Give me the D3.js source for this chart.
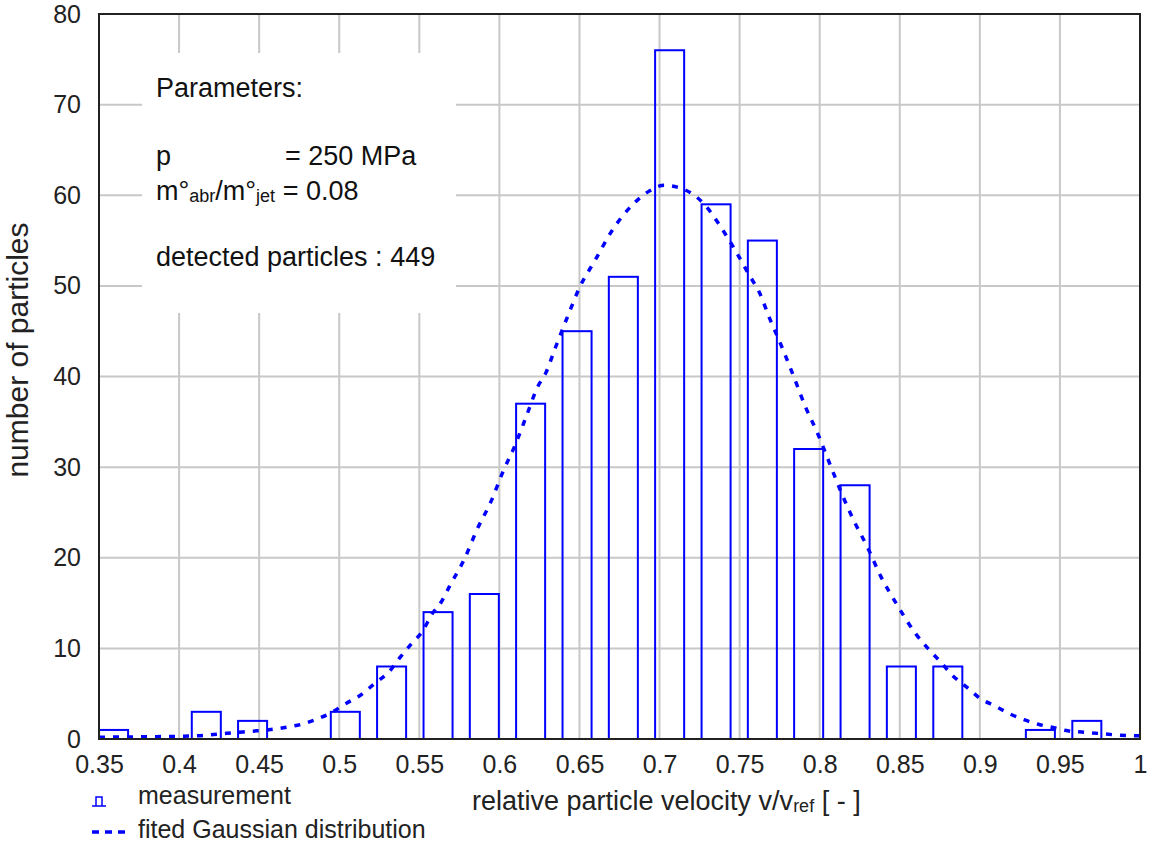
<!DOCTYPE html>
<html>
<head>
<meta charset="utf-8">
<script src="https://cdn.jsdelivr.net/npm/d3@7"></script>
<style>
  html, body { margin: 0; padding: 0; background: #fff; }
  svg { display: block; font-family: "Liberation Sans", Arial, sans-serif; }
</style>
</head>
<body>
<svg id="chart" width="1149" height="842"></svg>
<script>
// ---- data ----
const xTickValues = [0.35, 0.4, 0.45, 0.5, 0.55, 0.6, 0.65, 0.7, 0.75, 0.8, 0.85, 0.9, 0.95, 1];
const xTickLabels = ["0.35", "0.4", "0.45", "0.5", "0.55", "0.6", "0.65", "0.7", "0.75", "0.8", "0.85", "0.9", "0.95", "1"];
const yTickValues = [0, 10, 20, 30, 40, 50, 60, 70, 80];

// histogram: bin centres (relative velocity) and counts
const binCenters = [0.3591, 0.4170, 0.4459, 0.5038, 0.5327, 0.5617, 0.5906, 0.6195, 0.6485,
                    0.6774, 0.7063, 0.7353, 0.7642, 0.7931, 0.8221, 0.8510, 0.8800, 0.9378, 0.9668];
const counts = [1, 3, 2, 3, 8, 14, 16, 37, 45, 51, 76, 59, 55, 32, 28, 8, 8, 1, 2];

// fitted Gaussian curve
const fitV = [0.350, 0.380, 0.400, 0.415, 0.425, 0.435, 0.445, 0.455, 0.467, 0.477, 0.486, 0.495,
              0.504, 0.513, 0.522, 0.531, 0.538, 0.545, 0.552, 0.558, 0.564, 0.569, 0.578, 0.586,
              0.595, 0.602, 0.610, 0.617, 0.624, 0.629, 0.635, 0.643, 0.650, 0.660, 0.670, 0.684,
              0.693, 0.703, 0.711, 0.720, 0.729, 0.736, 0.747, 0.757, 0.762, 0.769, 0.777, 0.784,
              0.791, 0.799, 0.806, 0.813, 0.821, 0.830, 0.838, 0.848, 0.860, 0.867, 0.875, 0.883,
              0.892, 0.900, 0.910, 0.919, 0.928, 0.937, 0.945, 0.955, 0.965, 0.975, 0.985, 1.000];
const fitN = [0.2, 0.25, 0.3, 0.4, 0.55, 0.7, 0.85, 1.0, 1.3, 1.65, 2.2, 2.9,
              3.9, 4.8, 6.1, 7.4, 9.0, 10.5, 11.9, 13.8, 15.2, 16.9, 19.8, 23.1,
              26.3, 29.4, 32.5, 35.7, 38.9, 40.4, 43.2, 46.8, 49.8, 52.9, 56.0, 59.1,
              60.4, 61.1, 60.9, 60.2, 58.8, 57.1, 54.0, 50.9, 49.4, 46.3, 43.0, 39.9,
              36.7, 33.6, 30.5, 27.4, 24.2, 21.1, 18.0, 14.9, 11.6, 10.1, 8.6, 7.0,
              5.7, 4.5, 3.6, 2.75, 2.1, 1.6, 1.3, 0.9, 0.75, 0.6, 0.45, 0.35];

// ---- layout ----
const BAR_W = 0.018125; // bar width in velocity units
const blue = "#0000ff";
const gridCol = "#c8c8c8";
const svg = d3.select("#chart");
const pLeft = 99, pRight = 1140, pTop = 14, pBottom = 739;

const x = d3.scaleLinear().domain([0.35, 1]).range([pLeft, pRight]);
const y = d3.scaleLinear().domain([0, 80]).range([pBottom, pTop]);

// gridlines
svg.append("g").selectAll("line").data(xTickValues.slice(1, -1)).join("line")
  .attr("x1", d => x(d)).attr("x2", d => x(d)).attr("y1", pTop).attr("y2", pBottom)
  .attr("stroke", gridCol).attr("stroke-width", 2);
svg.append("g").selectAll("line").data(yTickValues.slice(1, -1)).join("line")
  .attr("x1", pLeft).attr("x2", pRight).attr("y1", d => y(d)).attr("y2", d => y(d))
  .attr("stroke", gridCol).attr("stroke-width", 2);

// annotation box (white, hides grid)
svg.append("rect").attr("x", 142).attr("y", 53).attr("width", 314).attr("height", 260).attr("fill", "#fff");

const fs = 27;
const ann = svg.append("g").attr("font-size", fs).attr("fill", "#111");
ann.append("text").attr("x", 156).attr("y", 97).text("Parameters:");
ann.append("text").attr("x", 156).attr("y", 165).text("p");
ann.append("text").attr("x", 285).attr("y", 165).text("= 250 MPa");
const t3 = ann.append("text").attr("x", 156).attr("y", 200);
t3.append("tspan").text("m°");
t3.append("tspan").attr("font-size", 18).attr("dy", 2).text("abr");
t3.append("tspan").attr("dy", -2).text("/m°");
t3.append("tspan").attr("font-size", 18).attr("dy", 2).text("jet");
t3.append("tspan").attr("dy", -2).text(" = 0.08");
ann.append("text").attr("x", 156).attr("y", 266).text("detected particles : 449");

// bars
svg.append("g").selectAll("rect").data(counts).join("rect")
  .attr("x", (d, i) => x(binCenters[i] - BAR_W / 2))
  .attr("width", (d, i) => x(binCenters[i] + BAR_W / 2) - x(binCenters[i] - BAR_W / 2))
  .attr("y", d => y(d))
  .attr("height", d => y(0) - y(d))
  .attr("fill", "none").attr("stroke", blue).attr("stroke-width", 2);

// fitted curve
const pts = fitV.map((v, i) => [v, fitN[i]]);
svg.append("path").datum(pts)
  .attr("d", d3.line().x(d => x(d[0])).y(d => y(d[1])).curve(d3.curveMonotoneX))
  .attr("fill", "none").attr("stroke", blue).attr("stroke-width", 3.5)
  .attr("stroke-dasharray", "6,8");

// frame
svg.append("rect").attr("x", pLeft).attr("y", pTop).attr("width", pRight - pLeft).attr("height", pBottom - pTop)
  .attr("fill", "none").attr("stroke", "#222").attr("stroke-width", 2);

// axes (labels only)
const xAxis = d3.axisBottom(x).tickValues(xTickValues).tickFormat((d, i) => xTickLabels[i]).tickSize(0).tickPadding(16);
const gx = svg.append("g").attr("transform", `translate(0,${pBottom})`).call(xAxis);
gx.select(".domain").remove();
gx.selectAll("text").attr("font-size", 25).attr("fill", "#222").attr("font-family", "Liberation Sans, Arial, sans-serif");

const yAxis = d3.axisLeft(y).tickValues(yTickValues).tickSize(0).tickPadding(18);
const gy = svg.append("g").attr("transform", `translate(${pLeft},0)`).call(yAxis);
gy.select(".domain").remove();
gy.selectAll("text").attr("font-size", 25).attr("fill", "#222").attr("font-family", "Liberation Sans, Arial, sans-serif");

// axis titles
const xt = svg.append("text").attr("x", 472).attr("y", 810).attr("font-size", 27).attr("fill", "#222");
xt.append("tspan").text("relative particle velocity v/v");
xt.append("tspan").attr("font-size", 18).attr("dy", 2).text("ref");
xt.append("tspan").attr("dy", -2).text(" [ - ]");

svg.append("text").attr("transform", "translate(28,350) rotate(-90)").attr("text-anchor", "middle")
  .attr("font-size", 30).attr("fill", "#222").text("number of particles");

// legend
const lg = svg.append("g");
lg.append("path").attr("d", "M92,806 H106 M96,806 V797 H102 V806")
  .attr("fill", "none").attr("stroke", blue).attr("stroke-width", 1.5);
lg.append("text").attr("x", 138).attr("y", 804).attr("font-size", 25).attr("fill", "#222").text("measurement");
lg.append("line").attr("x1", 92).attr("x2", 127).attr("y1", 832).attr("y2", 832)
  .attr("stroke", blue).attr("stroke-width", 3.5).attr("stroke-dasharray", "7,6");
lg.append("text").attr("x", 138).attr("y", 838).attr("font-size", 25).attr("fill", "#222").text("fited Gaussian distribution");
</script>
</body>
</html>
